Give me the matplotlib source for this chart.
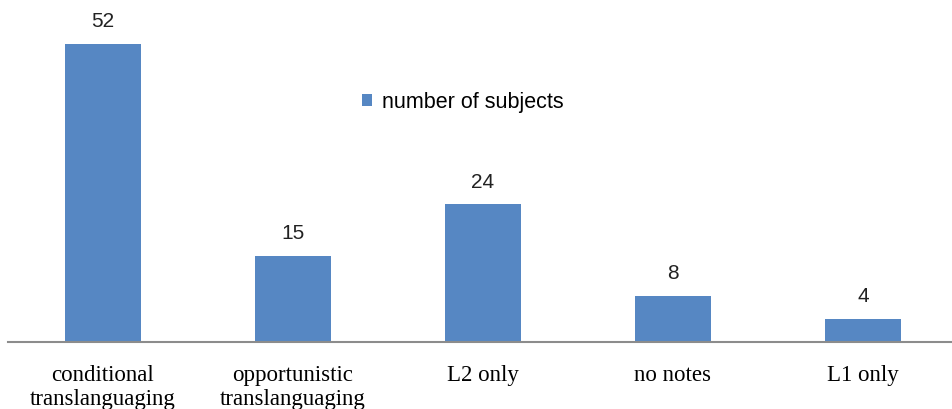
import matplotlib
matplotlib.use("Agg")
import matplotlib.pyplot as plt
import numpy as np

categories = ["conditional\ntranslanguaging", "opportunistic\ntranslanguaging",
              "L2 only", "no notes", "L1 only"]
subjects = [52, 15, 24, 8, 4]
series_name = "number of subjects"

bar_color = "#5687c3"

fig = plt.figure(figsize=(9.53, 4.10), dpi=100)
ax = fig.add_axes([8 / 953, 67 / 410, 950 / 953, 344 / 410])

x = np.arange(len(categories))
bars = ax.bar(x, subjects, width=0.395, color=bar_color, label=series_name, zorder=2)

for xi, v in zip(x, subjects):
    ax.annotate(str(v), (xi, v), xytext=(0, 10), textcoords="offset points",
                ha="center", va="bottom", fontsize=15, color="#222222",
                family="Liberation Sans")

ax.set_xlim(-0.5, len(categories) - 0.5)
ax.set_ylim(0, 60)
ax.set_xticks(x)
ax.set_xticklabels(categories, family="Liberation Serif", fontsize=16.5,
                   linespacing=1.2)
ax.tick_params(axis="x", length=0, pad=16)
ax.set_yticks([])

for s in ["top", "right", "left"]:
    ax.spines[s].set_visible(False)
ax.spines["bottom"].set_color("#8c8c8c")
ax.spines["bottom"].set_linewidth(1.5)

leg = ax.legend(loc="center left", bbox_to_anchor=(354 / 950, 240 / 344), frameon=False,
                prop={"family": "Liberation Sans", "size": 15.5},
                handlelength=0.48, handleheight=0.48, handletextpad=0.45,
                borderaxespad=0, borderpad=0)

fig.savefig("out.png", dpi=100)
plt.close(fig)
